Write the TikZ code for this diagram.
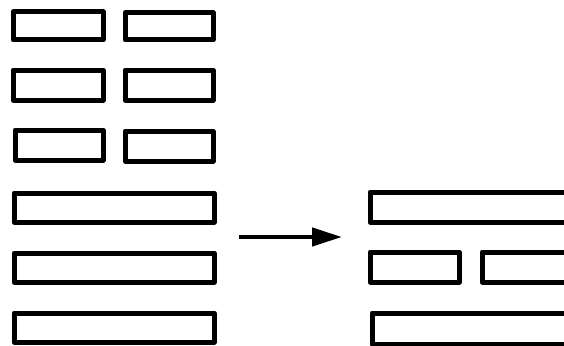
\documentclass[tikz,border=0pt]{standalone}
\usetikzlibrary{arrows.meta}
\begin{document}
\begin{tikzpicture}[x=1pt,y=-1pt,
  bar/.style={draw=black,line width=5pt,fill=white,line join=round},
  conn/.style={line width=4.5pt,-{Triangle[length=30pt,width=18pt]}}]
\useasboundingbox (0,0) rectangle (564,345);
% left hexagram: broken lines
\draw[bar] (13,12) rectangle (103,40);
\draw[bar] (125,13) rectangle (213,40);
\draw[bar] (13,70) rectangle (103,100);
\draw[bar] (125,70) rectangle (213,100);
\draw[bar] (15,130) rectangle (103,160);
\draw[bar] (125,131) rectangle (213,161);
% left hexagram: solid lines
\draw[bar] (14,193) rectangle (214,222);
\draw[bar] (14,253) rectangle (214,282);
\draw[bar] (14,313) rectangle (214,342);
% arrow
\coordinate (a1) at (239,237);
\coordinate (a2) at (342,237);
\draw[conn] (a1) -- (a2);
% right trigram
\draw[bar] (370,192) rectangle (580,222);
\draw[bar] (370,252) rectangle (459,282);
\draw[bar] (482,252) rectangle (580,282);
\draw[bar] (372,313) rectangle (580,344);
\end{tikzpicture}
\end{document}
